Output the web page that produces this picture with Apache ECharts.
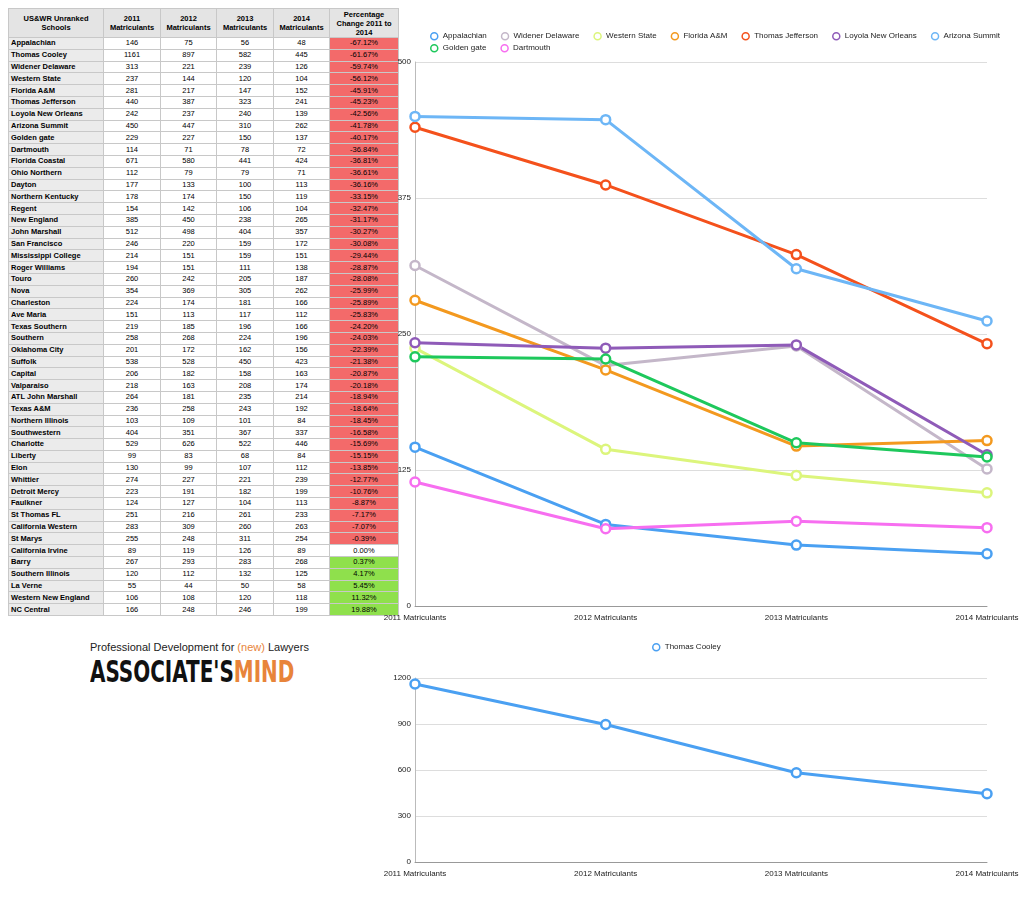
<!DOCTYPE html>
<html><head><meta charset="utf-8">
<script src="https://cdn.jsdelivr.net/npm/echarts@6/dist/echarts.min.js"></script>
<style>
body{margin:0;background:#fff;font-family:"Liberation Sans",Arial,sans-serif;}
#chart{position:absolute;left:0;top:0;width:1024px;height:912px;z-index:3;}
#tbl{position:absolute;left:8px;top:8px;border-collapse:collapse;font-size:7.5px;z-index:1;table-layout:fixed;width:390px;}
#tbl td{border:1px solid #c8c8c8;height:10.8px;padding:0 2px;line-height:10px;text-align:center;overflow:hidden;white-space:nowrap;}
#tbl tr.h td{background:#e4e4e4;font-weight:bold;height:28px;line-height:9px;white-space:normal;}
#tbl td.n{text-align:left;font-weight:bold;background:#ebebeb;}
#logo{position:absolute;left:90px;top:641px;z-index:1;}
#logo .s{font-size:11px;color:#222;}
#logo .s span{color:#e8843a;}
#logo .b{font-family:"Liberation Sans Narrow","DejaVu Sans Condensed",sans-serif;font-weight:bold;font-size:30px;margin-top:1px;color:#111;transform:scaleX(0.74);transform-origin:left top;white-space:nowrap;}
#logo .b span{color:#e8843a;}
</style></head><body>
<div id="chart"></div>
<table id="tbl"><colgroup><col style="width:95px"><col style="width:57px"><col style="width:56px"><col style="width:57px"><col style="width:56px"><col style="width:69px"></colgroup><tbody id="tb"></tbody></table>
<div id="logo"><div class="s">Professional Development for <span>(new)</span> Lawyers</div><div class="b">ASSOCIATE'S<span>MIND</span></div></div>
<script>
const years = ["2011 Matriculants","2012 Matriculants","2013 Matriculants","2014 Matriculants"];
const schools = ["Appalachian","Thomas Cooley","Widener Delaware","Western State","Florida A&M","Thomas Jefferson","Loyola New Orleans","Arizona Summit","Golden gate","Dartmouth","Florida Coastal","Ohio Northern","Dayton","Northern Kentucky","Regent","New England","John Marshall","San Francisco","Mississippi College","Roger Williams","Touro","Nova","Charleston","Ave Maria","Texas Southern","Southern","Oklahoma City","Suffolk","Capital","Valparaiso","ATL John Marshall","Texas A&M","Northern Illinois","Southwestern","Charlotte","Liberty","Elon","Whittier","Detroit Mercy","Faulkner","St Thomas FL","California Western","St Marys","California Irvine","Barry","Southern Illinois","La Verne","Western New England","NC Central"];
const v2011 = [146,1161,313,237,281,440,242,450,229,114,671,112,177,178,154,385,512,246,214,194,260,354,224,151,219,258,201,538,206,218,264,236,103,404,529,99,130,274,223,124,251,283,255,89,267,120,55,106,166];
const v2012 = [75,897,221,144,217,387,237,447,227,71,580,79,133,174,142,450,498,220,151,151,242,369,174,113,185,268,172,528,182,163,181,258,109,351,626,83,99,227,191,127,216,309,248,119,293,112,44,108,248];
const v2013 = [56,582,239,120,147,323,240,310,150,78,441,79,100,150,106,238,404,159,159,111,205,305,181,117,196,224,162,450,158,208,235,243,101,367,522,68,107,221,182,104,261,260,311,126,283,132,50,120,246];
const v2014 = [48,445,126,104,152,241,139,262,137,72,424,71,113,119,104,265,357,172,151,138,187,262,166,112,166,196,156,423,163,174,214,192,84,337,446,84,112,239,199,113,233,263,254,89,268,125,58,118,199];
const pct = ["-67.12%","-61.67%","-59.74%","-56.12%","-45.91%","-45.23%","-42.56%","-41.78%","-40.17%","-36.84%","-36.81%","-36.61%","-36.16%","-33.15%","-32.47%","-31.17%","-30.27%","-30.08%","-29.44%","-28.87%","-28.08%","-25.99%","-25.89%","-25.83%","-24.20%","-24.03%","-22.39%","-21.38%","-20.87%","-20.18%","-18.94%","-18.64%","-18.45%","-16.58%","-15.69%","-15.15%","-13.85%","-12.77%","-10.76%","-8.87%","-7.17%","-7.07%","-0.39%","0.00%","0.37%","4.17%","5.45%","11.32%","19.88%"];
const topSeries = ["Appalachian","Widener Delaware","Western State","Florida A&M","Thomas Jefferson","Loyola New Orleans","Arizona Summit","Golden gate","Dartmouth"];
const topColors = ["#4aa0f2","#c4b7c9","#dcf57c","#f3991f","#f4511c","#8f5bb8","#6db6f6","#1ec85c","#f76ef0"];

let h = '<tr class="h"><td class="n" style="text-align:center;background:#e4e4e4">US&amp;WR Unranked Schools</td>' +
  years.map(y=>'<td>'+y.replace(' ','<br>')+'</td>').join('') +
  '<td>Percentage Change 2011 to 2014</td></tr>';
schools.forEach((s,i)=>{
  const p = parseFloat(pct[i]);
  const bg = p<0?'#f36a6a':(p>0?'#8fe04c':'#fff');
  h += '<tr><td class="n">'+s.replace('&','&amp;')+'</td><td>'+v2011[i]+'</td><td>'+v2012[i]+'</td><td>'+v2013[i]+'</td><td>'+v2014[i]+'</td><td style="background:'+bg+'">'+pct[i]+'</td></tr>';
});
document.getElementById('tb').innerHTML = h;

const rowOf = n => schools.indexOf(n);
const vals = i => [v2011[i],v2012[i],v2013[i],v2014[i]];
const chart = echarts.init(document.getElementById('chart'));
const axisLbl = {fontSize:8,color:'#222'};
const mk = (n,c,xi) => ({
  name:n,type:'line',xAxisIndex:xi,yAxisIndex:xi,data:vals(rowOf(n)),color:c,
  symbol:'circle',symbolSize:9,itemStyle:{color:'#fff',borderColor:c,borderWidth:2.5},
  lineStyle:{color:c,width:3},animation:false});
const series = topSeries.map((n,k)=>mk(n,topColors[k],0));
series.push(mk('Thomas Cooley','#4aa0f2',1));
const legItem = (n,c)=>({name:n,icon:'circle',itemStyle:{color:'#fff',borderColor:c,borderWidth:1.5}});
const legBase = {itemGap:14,itemWidth:7,itemHeight:7,padding:0,textStyle:{fontSize:8,color:'#222'}};
chart.setOption({
  animation:false,
  legend:[
    Object.assign({data:topSeries.slice(0,7).map((n,k)=>legItem(n,topColors[k])),left:430,top:32},legBase),
    Object.assign({data:topSeries.slice(7).map((n,k)=>legItem(n,topColors[k+7])),left:430,top:44},legBase),
    Object.assign({data:[legItem('Thomas Cooley','#4aa0f2')],left:652,top:643},legBase)
  ],
  grid:[{left:415,top:62,width:572,height:544},{left:415,top:678,width:572,height:184}],
  xAxis:[0,1].map(g=>({type:'category',gridIndex:g,data:years,boundaryGap:false,
    axisLine:{lineStyle:{color:'#999'}},axisTick:{show:false},axisLabel:axisLbl,splitLine:{show:false}})),
  yAxis:[
    {type:'value',gridIndex:0,min:0,max:500,interval:125,axisLabel:Object.assign({margin:4},axisLbl),axisLine:{show:true,lineStyle:{color:'#bbb'}},splitLine:{lineStyle:{color:'#ddd'}}},
    {type:'value',gridIndex:1,min:0,max:1200,interval:300,axisLabel:Object.assign({margin:4,formatter:v=>String(v)},axisLbl),axisLine:{show:true,lineStyle:{color:'#bbb'}},splitLine:{lineStyle:{color:'#ddd'}}}
  ],
  series
});
</script></body></html>
